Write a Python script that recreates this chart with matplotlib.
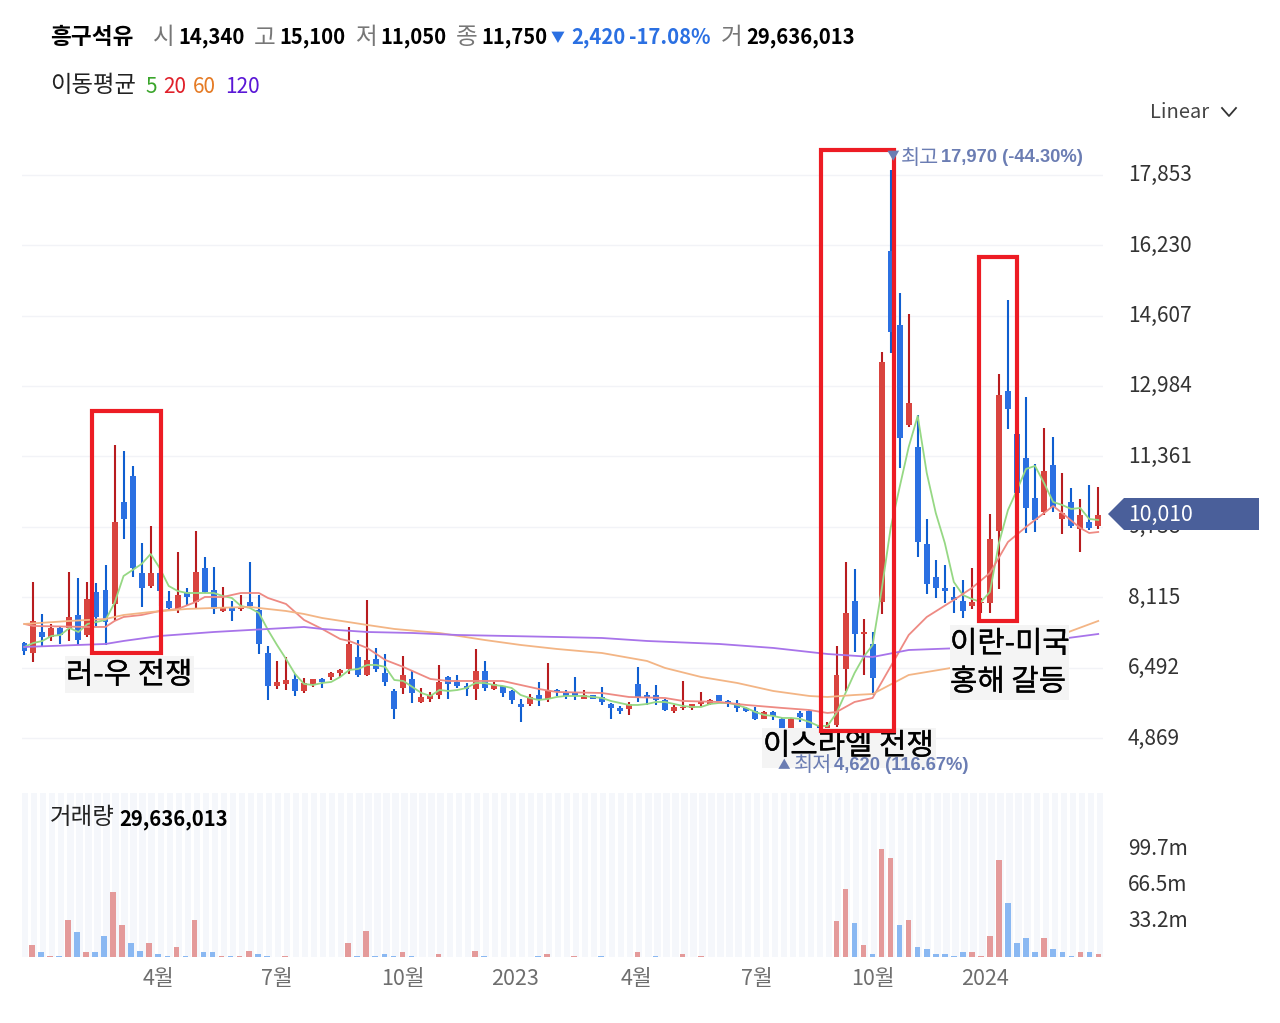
import matplotlib
matplotlib.use('Agg')
import matplotlib.pyplot as plt
from matplotlib.patches import Rectangle, Polygon
from matplotlib.transforms import ScaledTranslation
import matplotlib.patheffects as pe

plt.rcParams['font.family'] = ['Noto Sans CJK KR', 'DejaVu Sans']

W, H = 1280, 1023

# weekly candles
highs = [7089,8465,7720,7490,7451,8702,8557,8465,8442,8850,11630,11484,11132,9357,9763,8695,8264,9163,8333,9647,
         9041,8804,8357,8020,8172,8933,8158,6990,6651,6743,6344,6252,6236,6259,6397,6453,7421,7121,8057,6951,
         6805,5999,6752,6420,6029,5922,6559,6291,6314,6130,6927,6651,6167,6075,5975,5761,5890,6167,6591,6005,
         5975,6268,5969,5860,6045,5683,5607,5692,6499,5922,6084,5775,5623,6183,5653,5922,5775,5853,5745,5745,
         5591,5591,5491,5491,5323,5323,5484,5514,5169,5238,6990,8919,8758,7612,7305,13766,17970,15119,14642,12314,
         9910,8972,8857,8350,8511,8781,8089,10039,13266,14965,11876,12722,11178,12008,11800,10970,10632,10378,10708,10648]
lows = [6775,6621,6990,7112,7029,7112,7006,7204,7451,7006,7573,9463,8587,7882,8333,7912,7836,7743,7928,7836,
        8218,7727,7780,7573,7789,7859,6798,5745,6005,5969,5837,5913,6052,6029,6199,6268,6337,6282,6298,6390,
        6068,5307,5883,5676,5683,5699,5761,5761,6015,5844,5745,5959,5969,5821,5653,5245,5614,5614,5699,5837,
        5775,5745,5761,5768,5630,5300,5422,5399,5706,5623,5623,5498,5445,5514,5508,5607,5637,5710,5591,5468,
        5462,5284,5300,5284,5037,5053,5231,5030,4620,4938,5122,5952,6858,6321,5860,7727,13736,11086,12045,9034,
        8188,8089,7988,7757,7635,7843,7743,7743,8310,11985,10355,9601,9617,10009,10085,9571,9703,9156,9663,9693]
opens = [7052,6835,7319,7204,7405,7405,7697,7236,8241,8280,7958,10316,10908,8665,8373,8665,8034,7836,8241,8011,
         8788,8280,7789,7859,7836,7997,7819,6821,6075,6121,6229,5952,6121,6236,6275,6367,6453,6736,6314,6690,
         6367,5952,6029,6229,5699,5775,5860,6275,6153,6068,5992,6406,5992,6068,5946,5653,5646,5860,5775,5975,
         5906,5936,5775,5853,5807,5653,5554,5531,6114,5853,5860,5745,5491,5554,5568,5653,5660,5853,5729,5669,
         5568,5491,5314,5475,5314,5107,5438,5491,5100,5007,5157,6460,8034,7259,7029,8011,16094,14382,12084,11570,
         9334,8580,8320,8112,8027,7919,7974,7974,9647,12861,11876,11323,10401,10085,11162,9924,10316,9680,9841,9756]
closes = [6881,7573,7204,7405,7250,7651,7128,8073,7658,7550,9841,9924,8788,8333,8665,8257,7866,8158,8126,8702,
          8241,7836,7873,7789,7882,7912,7036,6075,6153,6194,5952,6144,6236,6160,6367,6443,7036,6321,6660,6453,
          6160,5531,6321,5906,5814,5860,6153,6114,6068,5999,6406,6029,6114,5913,5738,5577,5814,5738,5975,5918,
          5830,5830,5860,5775,5706,5568,5491,5646,5791,5784,5738,5514,5577,5591,5646,5729,5738,5722,5669,5568,
          5491,5300,5475,5369,5093,5307,5346,5093,4984,5169,6321,7743,7259,7319,6245,13543,14234,11791,12584,9394,
          8426,8333,8250,8043,7803,7997,8011,9449,12782,12459,10516,10178,9894,11030,10201,10055,9763,10009,9703,10010]

# moving averages
ma5 = [6967,7059,7105,7220,7243,7405,7312,7497,7543,7589,7981,8603,8741,8880,9110,8788,8373,8257,8211,8211,
       8211,8211,8142,8096,7912,7866,7750,7358,7013,6690,6344,6114,6091,6137,6160,6275,6436,6460,6552,6552,
       6506,6206,6183,6045,5906,5837,5975,5952,5975,6022,6137,6137,6091,6068,6022,5860,5791,5745,5768,5814,
       5837,5837,5837,5814,5791,5722,5676,5630,5630,5653,5699,5699,5653,5607,5584,5584,5653,5676,5676,5630,
       5561,5468,5399,5376,5330,5330,5307,5238,5146,5146,5445,5906,6367,6736,7013,8280,9710,10655,11577,12291,
       10977,10055,9364,8465,8165,8073,8004,8234,9364,10124,10585,11070,11139,10747,10309,10240,10148,10171,9917,9894]
ma20_idx = [0,1,7,9,10,11,13,15,17,19,20,22,24,26,27,29,31,33,35,36,38,40,42,45,47,50,53,55,57,59,64,67,71,73,77,80,84,87,89,90,92,94,98,100,103,105,107,109,111,113,114,115,117,118,119]
ma20 = [7497,7451,7428,7428,7566,7658,7704,7796,7843,8004,8119,8119,8211,8211,8096,7958,7589,7382,7151,7105,6944,6667,6506,6229,6183,6183,6183,6091,5999,5929,5906,5814,5791,5722,5699,5630,5561,5514,5445,5468,5699,5791,7243,7658,8050,8327,8672,9387,9733,10055,10217,10055,9710,9594,9617]
ma60_idx = [0,5,9,11,14,18,21,25,29,31,33,38,41,46,51,55,59,64,69,71,75,79,83,87,89,92,94,98,100,104,107,112,116,119]
ma60 = [7497,7566,7612,7704,7773,7843,7866,7889,7796,7727,7635,7474,7382,7289,7128,7013,6921,6828,6644,6483,6275,6137,5952,5837,5814,5860,5883,6321,6390,6529,6713,6990,7335,7566]
ma120_idx = [0,9,11,15,21,31,33,38,43,48,59,64,69,77,83,88,89,94,98,104,108,114,119]
ma120 = [6967,7036,7105,7220,7312,7428,7382,7312,7289,7243,7197,7174,7105,7036,6944,6828,6805,6736,6897,6944,7013,7128,7266]

# volume in millions, 'r' / 'b' per bar
volume = [0,10.7,4.3,0.9,0.9,34.2,22.6,4.3,4.3,18.9,59.2,29,12.5,5.8,12.5,2.4,0.9,9.2,0.9,34.2,
          4.3,4.3,0.9,0.9,0.9,5.8,2.4,0.9,0,0.9,0,0,0,0,0,0,12.5,0.9,24.1,0.9,
          2.4,0.9,4.3,0.9,0,0,2.4,0,0,0,5.8,0.9,0,0,0,0,0,0.9,2.4,0,
          0,0.9,0,0,0.9,0,0,0,4.3,0,0.9,0,0,2.4,0,0.9,0,0,0,0,
          0,0,0,0,0,0,0,0,0,0,32.6,62.2,30.8,10.7,2.4,98.8,90.6,29,34.2,9.2,
          7.3,2.4,2.4,0.9,4.3,4.3,0.9,18.9,89.1,49.1,12.5,17.4,4.3,17.4,7.3,4.3,0.9,4.3,4.3,2.4]
vol_side = ('brbrbrbrbbrrbbrbbrbr' 'bbrbrrbbbrbbbbbbrbrb' 'bbrbbbrbbbrbbbbbbbrb' 'brbbbbbbrbbbbrbrbbbb'
            'bbbbbbbbbbrrbrbrrbrb' 'bbbbbrrrrbbbbrbbbrbr')

price_ticks = [4869,6492,8115,9738,11361,12984,14607,16230,17853]
vol_ticks = [33.2,66.5,99.7]
vol_tick_labels = ['33.2m','66.5m','99.7m']
date_ticks = [15,28.1,42,54.5,67.9,81.2,94,106.4]
date_labels = ['4월','7월','10월','2023','4월','7월','10월','2024']

RED_BODY, RED_WICK = '#d9443f', '#b81c1f'
BLUE_BODY, BLUE_WICK = '#2b70e2', '#0f5ed0'
GREEN, RED, ORANGE, PURPLE = '#96d884', '#ee8a83', '#f3b585', '#a874ea'
LABEL = '#6b7db3'

fig = plt.figure(figsize=(W / 100, H / 100), dpi=100, facecolor='white')
up_2px = ScaledTranslation(0, 2 / 100, fig.dpi_scale_trans)

def px_axes(x0, y0, x1, y1):
    return fig.add_axes([x0 / W, 1 - y1 / H, (x1 - x0) / W, (y1 - y0) / H])

# price panel
ax = px_axes(22, 130, 1103, 790)
ax.set_xlim(-0.255, 119.53)
ax.set_ylim(3670, 18883)
for s in ax.spines.values():
    s.set_visible(False)
ax.set_xticks([])
ax.yaxis.tick_right()
ax.set_yticks(price_ticks)
ax.set_yticklabels(['{:,}'.format(t) for t in price_ticks], fontsize=15, color='#333333')
ax.tick_params(axis='y', length=0, pad=18)
for t in ax.get_yticklabels():
    t.set_transform(t.get_transform() + up_2px)
ax.grid(True, axis='y', color='#f2f3f7', lw=1)
ax.set_axisbelow(True)

for i in range(len(opens)):
    up = closes[i] >= opens[i]
    ax.vlines(i, lows[i], highs[i], color=RED_WICK if up else BLUE_WICK, lw=1.5, zorder=2)
    ax.bar(i, abs(closes[i] - opens[i]), bottom=min(opens[i], closes[i]), width=0.66,
           color=RED_BODY if up else BLUE_BODY, zorder=3)

ax.plot(range(len(ma5)), ma5, color=GREEN, lw=1.3, zorder=4)
ax.plot(ma20_idx, ma20, color=RED, lw=1.3, zorder=4)
ax.plot(ma60_idx, ma60, color=ORANGE, lw=1.3, zorder=4)
ax.plot(ma120_idx, ma120, color=PURPLE, lw=1.3, zorder=4)

# volume panel
vx = px_axes(22, 793, 1103, 957)
vx.set_xlim(-0.077, 119.5)
vx.set_ylim(0, 150.2)
for s in vx.spines.values():
    s.set_visible(False)
for i in range(120):
    vx.axvspan(0.277 + i * 0.999 - 0.35, 0.277 + i * 0.999 + 0.35, color='#f5f7fb', lw=0, zorder=0)
vx.bar(range(120), volume, width=0.62, zorder=2,
       color=['#e49a9a' if c == 'r' else '#8ab8f2' for c in vol_side])
vx.yaxis.tick_right()
vx.set_yticks(vol_ticks)
vx.set_yticklabels(vol_tick_labels, fontsize=15, color='#333333')
vx.tick_params(axis='y', length=0, pad=18)
for t in vx.get_yticklabels():
    t.set_transform(t.get_transform() + up_2px)
vx.set_xticks(date_ticks)
vx.set_xticklabels(date_labels, fontsize=15.5, color='#6e6e6e')
vx.tick_params(axis='x', length=0, pad=8)

# overlay in screen pixels: header, callouts, hand drawn boxes
ov = fig.add_axes([0, 0, 1, 1], zorder=10)
ov.set_xlim(0, W)
ov.set_ylim(H, 0)
ov.axis('off')
ov.patch.set_alpha(0)

def put(x, y, s, size=15, color='black', weight='normal', ha='left', **kw):
    # va center sits about 2px high for these fonts
    return ov.text(x, y + 2, s, fontsize=size, color=color, fontweight=weight, ha=ha, va='center', **kw)

put(50, 35, '흥구석유', 16.3, weight='bold')
for x, s, col, bold in [(153, '시', '#777777', False), (178, '14,340', 'black', True),
                        (254, '고', '#777777', False), (279, '15,100', 'black', True),
                        (355, '저', '#777777', False), (380, '11,050', 'black', True),
                        (456, '종', '#777777', False), (481, '11,750', 'black', True),
                        (551, '▼', '#2b70e2', False), (571, '2,420', '#2b70e2', True),
                        (629, '-17.08%', '#2b70e2', True),
                        (721, '거', '#777777', False), (746, '29,636,013', 'black', True)]:
    size = 10 if s == '▼' else (14.6 if bold else 17)
    put(x, 36, s, size, col, 'bold' if bold else 'normal')
put(50, 84, '이동평균', 16.8, '#222222')
put(145, 85, '5', 15, '#3aa52b')
put(163, 85, '20', 15, '#e0202a')
put(193, 85, '60', 15, '#e57b25')
put(225, 85, '120', 15, '#5a17d6')
put(1150, 110, 'Linear', 14.5, '#444444')
ov.plot([1222, 1229, 1236], [108, 116, 108], color='#333333', lw=1.3)

put(50, 816, '거래량', 16.9, '#222222')
put(119, 817, '29,636,013', 14.6, 'black', 'bold')

# last price tag
ov.add_patch(Polygon([(1108, 514), (1124, 498), (1259, 498), (1259, 530), (1124, 530)],
                     closed=True, color='#4a5f9a', lw=0))
put(1128, 513, '10,010', 15.3, 'white')

# callout labels
for x0, y0, x1, y1 in [(65, 656, 194, 693), (762, 728, 936, 768), (950, 625, 1069, 700)]:
    ov.add_patch(Rectangle((x0, y0), x1 - x0, y1 - y0, color='#f4f4f4', lw=0, zorder=5))
bolder = [pe.withStroke(linewidth=0.25, foreground='black')]
for x, y, s in [(66, 672, '러-우 전쟁'), (763, 743, '이스라엘 전쟁'),
                (950, 641, '이란-미국'), (950, 679, '홍해 갈등')]:
    put(x, y + 1, s, 21.4, zorder=6, path_effects=bolder)

# red boxes
for x0, y0, x1, y1 in [(92, 411, 161, 653), (821, 150, 894, 731), (979, 257, 1017, 621)]:
    ov.add_patch(Rectangle((x0, y0), x1 - x0, y1 - y0, fill=False, ec='#ed1c24', lw=3, zorder=7))

# high / low markers
put(887, 155, '▼', 9, LABEL, zorder=8)
put(901, 156, '최고', 15, LABEL, zorder=8)
put(941, 156, '17,970 (-44.30%)', 13.2, LABEL, 'bold', zorder=8, family='Liberation Sans')
put(778, 764, '▲', 9, LABEL, zorder=8)
put(794, 763, '최저', 15, LABEL, zorder=8)
put(834, 764, '4,620 (116.67%)', 13.2, LABEL, 'bold', zorder=8, family='Liberation Sans')

fig.savefig('out.png', dpi=100)
